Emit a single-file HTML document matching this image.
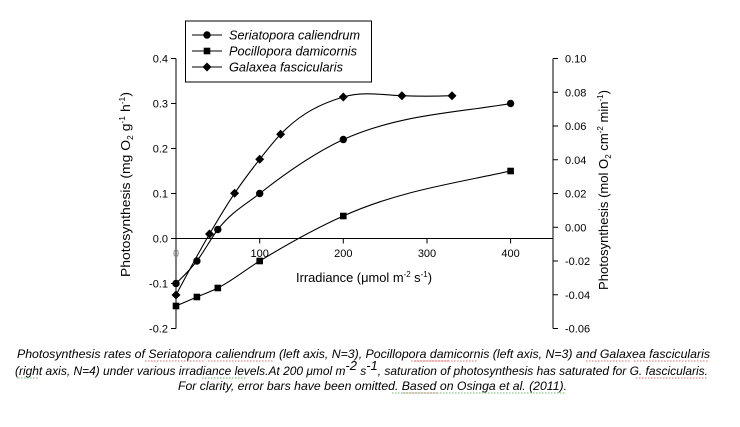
<!DOCTYPE html>
<html><head><meta charset="utf-8"><style>
html,body{margin:0;padding:0;background:#fff;}
svg{display:block;}
text{font-family:"Liberation Sans",Arial,sans-serif;fill:#000;}
</style></head><body>
<svg width="740" height="427" viewBox="0 0 740 427" xmlns="http://www.w3.org/2000/svg">
<rect width="740" height="427" fill="#fff"/>
<!-- axes -->
<g stroke="#000" stroke-width="1" fill="none">
<line x1="176" y1="58.5" x2="176" y2="328.5"/>
<line x1="553" y1="58.5" x2="553" y2="328.5"/>
<line x1="176" y1="238.5" x2="553" y2="238.5"/>
<!-- left ticks -->
<line x1="171" y1="58.5" x2="176" y2="58.5"/>
<line x1="171" y1="103.5" x2="176" y2="103.5"/>
<line x1="171" y1="148.5" x2="176" y2="148.5"/>
<line x1="171" y1="193.5" x2="176" y2="193.5"/>
<line x1="171" y1="238.5" x2="176" y2="238.5"/>
<line x1="171" y1="283.5" x2="176" y2="283.5"/>
<line x1="171" y1="328.5" x2="176" y2="328.5"/>
<!-- right ticks -->
<line x1="553" y1="58.5" x2="558" y2="58.5"/>
<line x1="553" y1="92.25" x2="558" y2="92.25"/>
<line x1="553" y1="126" x2="558" y2="126"/>
<line x1="553" y1="159.75" x2="558" y2="159.75"/>
<line x1="553" y1="193.5" x2="558" y2="193.5"/>
<line x1="553" y1="227.25" x2="558" y2="227.25"/>
<line x1="553" y1="261" x2="558" y2="261"/>
<line x1="553" y1="294.75" x2="558" y2="294.75"/>
<line x1="553" y1="328.5" x2="558" y2="328.5"/>
<!-- x ticks -->
<line x1="176" y1="238.5" x2="176" y2="243.5"/>
<line x1="259.7" y1="238.5" x2="259.7" y2="243.5"/>
<line x1="343.3" y1="238.5" x2="343.3" y2="243.5"/>
<line x1="427" y1="238.5" x2="427" y2="243.5"/>
<line x1="510.6" y1="238.5" x2="510.6" y2="243.5"/>
</g>
<!-- left tick labels -->
<g font-size="11" text-anchor="end">
<text x="168" y="62.5">0.4</text>
<text x="168" y="107.5">0.3</text>
<text x="168" y="152.5">0.2</text>
<text x="168" y="197.5">0.1</text>
<text x="168" y="242.5">0.0</text>
<text x="168" y="287.5">-0.1</text>
<text x="168" y="332.5">-0.2</text>
</g>
<!-- right tick labels -->
<g font-size="11" text-anchor="start">
<text x="565" y="62.5">0.10</text>
<text x="565" y="96.25">0.08</text>
<text x="565" y="130">0.06</text>
<text x="565" y="163.75">0.04</text>
<text x="565" y="197.5">0.02</text>
<text x="565" y="231.25">0.00</text>
<text x="565" y="265">-0.02</text>
<text x="565" y="298.75">-0.04</text>
<text x="565" y="332.5">-0.06</text>
</g>
<!-- x tick labels -->
<g font-size="11" text-anchor="middle">
<text x="176" y="257" fill="#888" style="fill:#888">0</text>
<text x="259.7" y="257">100</text>
<text x="343.3" y="257">200</text>
<text x="427" y="257">300</text>
<text x="510.6" y="257">400</text>
</g>
<!-- axis titles -->
<text x="296" y="282" font-size="13" textLength="136" lengthAdjust="spacingAndGlyphs">Irradiance (μmol m<tspan font-size="8" dy="-5">-2</tspan><tspan dy="5"> s</tspan><tspan font-size="8" dy="-5">-1</tspan><tspan dy="5">)</tspan></text>
<text transform="translate(130,277) rotate(-90)" font-size="13" textLength="185" lengthAdjust="spacingAndGlyphs">Photosynthesis (mg O<tspan font-size="8" dy="3">2</tspan><tspan dy="-3"> g</tspan><tspan font-size="8" dy="-5">-1</tspan><tspan dy="5"> h</tspan><tspan font-size="8" dy="-5">-1</tspan><tspan dy="5">)</tspan></text>
<text transform="translate(608,290) rotate(-90)" font-size="13" textLength="200" lengthAdjust="spacingAndGlyphs">Photosynthesis (mol O<tspan font-size="8" dy="3">2</tspan><tspan dy="-3"> cm</tspan><tspan font-size="8" dy="-5">-2</tspan><tspan dy="5"> min</tspan><tspan font-size="8" dy="-5">-1</tspan><tspan dy="5">)</tspan></text>
<!-- curves -->
<g stroke="#000" stroke-width="1.1" fill="none">
<path d="M176,283.5 C182.97,276.75 189.93,270 196.9,261 C203.87,252 210.83,238.5 217.8,229.5 C231.77,211.46 245.73,204.51 259.7,193.5 C287.57,171.54 315.43,152.5 343.3,139.5 C399.07,114.4 454.83,113 510.6,103.5"/>
<path d="M176,306 L196.9,297 C203.87,294 210.83,291.5 217.8,288 C231.77,280.99 245.73,269.5 259.7,261 C287.57,244.03 315.43,228.5 343.3,216 C399.07,190.9 454.83,183.3 510.6,171"/>
<path d="M176,295 C187.17,274.03 198.33,253.06 209.5,234 C217.87,219.72 226.23,205.75 234.6,193.3 C242.97,180.85 251.33,169.91 259.7,159.3 C266.67,150.47 273.63,141.59 280.6,134.3 C301.5,112.44 322.4,103.25 343.3,97 C362.83,91.16 382.37,94.9 401.9,95.7 C418.6,96.4 435.3,96.3 452,95.7"/>
</g>
<!-- markers -->
<g fill="#000">
<circle cx="176" cy="283.5" r="3.7"/>
<circle cx="196.9" cy="261" r="3.7"/>
<circle cx="217.8" cy="229.5" r="3.7"/>
<circle cx="259.7" cy="193.5" r="3.7"/>
<circle cx="343.3" cy="139.5" r="3.7"/>
<circle cx="510.6" cy="103.5" r="3.7"/>
<rect x="172.7" y="302.7" width="6.6" height="6.6"/>
<rect x="193.6" y="293.7" width="6.6" height="6.6"/>
<rect x="214.5" y="284.7" width="6.6" height="6.6"/>
<rect x="256.4" y="257.7" width="6.6" height="6.6"/>
<rect x="340" y="212.7" width="6.6" height="6.6"/>
<rect x="507.3" y="167.7" width="6.6" height="6.6"/>
<path d="M176,290.5 L180.5,295 L176,299.5 L171.5,295Z"/>
<path d="M209.5,229.5 L214,234 L209.5,238.5 L205,234Z"/>
<path d="M234.6,188.8 L239.1,193.3 L234.6,197.8 L230.1,193.3Z"/>
<path d="M259.7,154.8 L264.2,159.3 L259.7,163.8 L255.2,159.3Z"/>
<path d="M280.6,129.8 L285.1,134.3 L280.6,138.8 L276.1,134.3Z"/>
<path d="M343.3,92.5 L347.8,97 L343.3,101.5 L338.8,97Z"/>
<path d="M401.9,91.2 L406.4,95.7 L401.9,100.2 L397.4,95.7Z"/>
<path d="M452,91.2 L456.5,95.7 L452,100.2 L447.5,95.7Z"/>
</g>
<!-- legend -->
<rect x="185.5" y="21" width="186" height="61" fill="#fff" stroke="#000" stroke-width="1"/>
<g stroke="#000" stroke-width="1.1">
<line x1="192" y1="35" x2="222" y2="35"/>
<line x1="192" y1="51" x2="222" y2="51"/>
<line x1="192" y1="67" x2="222" y2="67"/>
</g>
<circle cx="207" cy="35" r="3.7" fill="#000"/>
<rect x="203.7" y="47.7" width="6.6" height="6.6" fill="#000"/>
<path d="M207,62.5 L211.5,67 L207,71.5 L202.5,67Z" fill="#000"/>
<g font-size="13" font-style="italic">
<text x="229" y="39.5" textLength="131" lengthAdjust="spacingAndGlyphs">Seriatopora caliendrum</text>
<text x="229" y="55.5" textLength="128" lengthAdjust="spacingAndGlyphs">Pocillopora damicornis</text>
<text x="229" y="71.5" textLength="114" lengthAdjust="spacingAndGlyphs">Galaxea fascicularis</text>
</g>
<!-- caption -->
<g font-size="12" font-style="italic" fill="#111">
<text x="17" y="358" textLength="693" lengthAdjust="spacingAndGlyphs">Photosynthesis rates of Seriatopora caliendrum (left axis, N=3), Pocillopora damicornis (left axis, N=3) and Galaxea fascicularis</text>
<text x="15" y="375" textLength="693" lengthAdjust="spacingAndGlyphs">(right axis, N=4) under various irradiance levels.At 200 μmol m<tspan font-size="13" dy="-5">-2</tspan><tspan dy="5"> s</tspan><tspan font-size="13" dy="-5">-1</tspan><tspan dy="5">, saturation of photosynthesis has saturated for G. fascicularis.</tspan></text>
<text x="178" y="390" textLength="389" lengthAdjust="spacingAndGlyphs">For clarity, error bars have been omitted. Based on Osinga et al. (2011).</text>
</g>
<!-- spellcheck underlines -->
<g stroke="#d04040" stroke-width="0.8" stroke-dasharray="1.5,1.5">
<line x1="145" y1="361" x2="204" y2="361"/>
<line x1="208" y1="361" x2="273" y2="361"/>
<line x1="411" y1="361" x2="450" y2="361"/>
<line x1="415" y1="361" x2="478" y2="361"/>
<line x1="586" y1="361" x2="630" y2="361"/>
<line x1="634" y1="361" x2="709" y2="361"/>
<line x1="636" y1="378" x2="707" y2="378"/>
<line x1="403" y1="393" x2="437" y2="393"/>
</g>
<g stroke="#40a040" stroke-width="0.8" stroke-dasharray="1.5,1.5">
<line x1="18" y1="378" x2="38" y2="378"/>
<line x1="202" y1="378" x2="246" y2="378"/>
<line x1="392" y1="393" x2="565" y2="393"/>
</g>
</svg>
</body></html>
